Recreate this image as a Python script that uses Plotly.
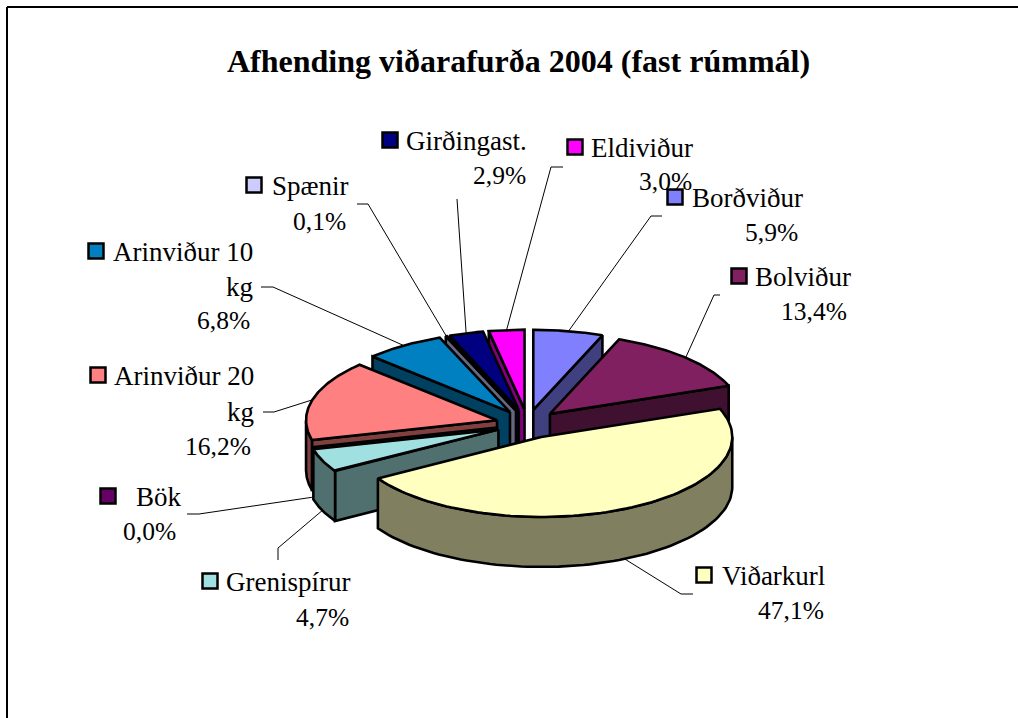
import numpy as np
import plotly.graph_objects as go

# ---- data ----
categories = ["Borðviður", "Bolviður", "Viðarkurl", "Grenispírur", "Bök",
              "Arinviður 20 kg", "Arinviður 10 kg", "Spænir", "Girðingast.", "Eldiviður"]
values = [5.9, 13.4, 47.1, 4.7, 0.0, 16.2, 6.8, 0.1, 2.9, 3.0]
pct_labels = ["5,9%", "13,4%", "47,1%", "4,7%", "0,0%", "16,2%", "6,8%", "0,1%", "2,9%", "3,0%"]
top_colors = ["#8080FF", "#802060", "#FFFFC0", "#A0E0E0", "#660066",
              "#FF8080", "#0080C0", "#CCCCFF", "#000080", "#FF00FF"]
side_colors = ["#404080", "#401030", "#808060", "#507070", "#330033",
               "#804040", "#004060", "#666680", "#000040", "#800080"]
title_text = "Afhending viðarafurða 2004 (fast rúmmál)"

# ---- projection of the tilted pie (style / layout) ----
CX, CY, RX, RY, DEPTH = 527.5, 424.0, 191.0, 80.0, 50.0
EXPLODE_X, EXPLODE_Y = 0.165, 0.18
FONT = "Liberation Serif"
LW = 2.6
NAME_SIZE = 27
PCT_SIZE = 25.5

# label layout: key x/y, then text lines (x, y, anchor, text); numbers mean "use the pct label"
label_layout = {
    "Borðviður": ((675, 197), [(692, 198, "left", "Borðviður"), (798, 232, "right", 5.9)]),
    "Bolviður": ((739, 276), [(755, 277, "left", "Bolviður"), (847, 311, "right", 13.4)]),
    "Viðarkurl": ((704, 575), [(722, 576, "left", "Viðarkurl"), (824, 610, "right", 47.1)]),
    "Grenispírur": ((210, 581), [(226, 582, "left", "Grenispírur"), (349, 617, "right", 4.7)]),
    "Bök": ((108, 496), [(136, 497, "left", "Bök"), (176, 531, "right", 0.0)]),
    "Arinviður 20 kg": ((98, 375), [(114, 376, "left", "Arinviður 20"), (254, 412, "right", "kg"), (251, 446, "right", 16.2)]),
    "Arinviður 10 kg": ((96, 251), [(113, 252, "left", "Arinviður 10"), (253, 287, "right", "kg"), (250, 320, "right", 6.8)]),
    "Spænir": ((254, 185), [(272, 186, "left", "Spænir"), (346, 221, "right", 0.1)]),
    "Girðingast.": ((390, 140), [(406, 141, "left", "Girðingast."), (526, 175, "right", 2.9)]),
    "Eldiviður": ((575, 147), [(591, 148, "left", "Eldiviður"), (692, 181, "right", 3.0)]),
}
# leader lines: outer points next to the label
leader_layout = {
    "Borðviður": [(662, 216), (651, 216)],
    "Bolviður": [(720, 295), (714, 295)],
    "Viðarkurl": [(693, 594), (681, 594)],
    "Grenispírur": [(278, 560), (278, 548)],
    "Bök": [(187, 514), (199, 514)],
    "Arinviður 20 kg": [(263, 412), (274, 412)],
    "Arinviður 10 kg": [(261, 287), (273, 287)],
    "Spænir": [(357, 204), (368, 204)],
    "Girðingast.": [(457, 199)],
    "Eldiviður": [(563, 167), (551, 167)],
}

fracs = np.array(values) / sum(values)
edges = np.concatenate([[0], np.cumsum(fracs)]) * 2 * np.pi
fig = go.Figure()


def rim(theta, ax, ay):
    return ax + RX * np.sin(theta), ay - RY * np.cos(theta)


def poly(xs, ys, fill):
    fig.add_trace(go.Scatter(x=list(xs), y=list(ys), mode="lines", fill="toself", fillcolor=fill,
                             line=dict(color="black", width=LW), hoverinfo="skip", showlegend=False))


def apex(i):
    m = (edges[i] + edges[i + 1]) / 2
    return CX + EXPLODE_X * RX * np.sin(m), CY - EXPLODE_Y * RY * np.cos(m)


order = sorted(range(len(values)), key=lambda i: apex(i)[1])
for i in order:
    a0, a1 = edges[i], edges[i + 1]
    ax, ay = apex(i)
    mx, my = rim((a0 + a1) / 2, ax, ay)
    # cut faces that look towards the viewer (slice interior lies above the edge on screen)
    for th in (a0, a1):
        ex, ey = rim(th, ax, ay)
        dx, dy = ex - ax, ey - ay
        if abs(dx) > 1e-6 and (my - ay) - (dy / dx) * (mx - ax) < 0:
            poly([ax, ex, ex, ax, ax], [ay, ey, ey + DEPTH, ay + DEPTH, ay], side_colors[i])
    # outer wall on the near half
    lo, hi = max(a0, np.pi / 2), min(a1, 3 * np.pi / 2)
    if hi > lo:
        t = np.linspace(lo, hi, 80)
        wx, wy = rim(t, ax, ay)
        poly(np.r_[wx, wx[::-1], wx[0]], np.r_[wy, wy[::-1] + DEPTH, wy[0]], side_colors[i])
    # top face
    t = np.linspace(a0, a1, 100)
    tx, ty = rim(t, ax, ay)
    poly(np.r_[ax, tx, ax], np.r_[ay, ty, ay], top_colors[i])

# leader lines, from the label to the rim of each slice
for i, c in enumerate(categories):
    m = (edges[i] + edges[i + 1]) / 2
    ax, ay = apex(i)
    ex, ey = rim(m, ax, ay)
    if np.cos(m) < 0:
        ey = ey + DEPTH
    pts = leader_layout[c]
    fig.add_trace(go.Scatter(x=[p[0] for p in pts] + [ex], y=[p[1] for p in pts] + [ey], mode="lines",
                             line=dict(color="black", width=1), hoverinfo="skip", showlegend=False))

# legend keys and labels
fig.add_trace(go.Scatter(
    x=[label_layout[c][0][0] for c in categories],
    y=[label_layout[c][0][1] for c in categories],
    mode="markers",
    marker=dict(symbol="square", size=15, color=top_colors, line=dict(color="black", width=2.5)),
    hoverinfo="skip", showlegend=False))

annotations = [dict(x=518, y=61, xref="x", yref="y", text=f"<b>{title_text}</b>", showarrow=False,
                    font=dict(family=FONT, size=32, color="black"), xanchor="center", yanchor="middle")]
for i, c in enumerate(categories):
    for x, y, anchor, txt in label_layout[c][1]:
        size = NAME_SIZE
        if not isinstance(txt, str):
            txt = pct_labels[i]
            size = PCT_SIZE
        annotations.append(dict(x=x, y=y, xref="x", yref="y", text=txt, showarrow=False,
                                font=dict(family=FONT, size=size, color="black"), xanchor=anchor,
                                yanchor="middle", borderpad=0, borderwidth=0))

fig.update_layout(
    width=1018, height=718, margin=dict(l=0, r=0, t=0, b=0),
    paper_bgcolor="white", plot_bgcolor="white", showlegend=False, annotations=annotations,
    xaxis=dict(range=[0, 1018], visible=False, fixedrange=True),
    yaxis=dict(range=[718, 0], visible=False, fixedrange=True),
    shapes=[dict(type="line", xref="x", yref="y", x0=7, y0=7, x1=1018, y1=7, line=dict(color="black", width=2)),
            dict(type="line", xref="x", yref="y", x0=7, y0=7, x1=7, y1=718, line=dict(color="black", width=2))],
)
fig.write_html("out.html", config=dict(displayModeBar=False),
               post_script="document.body.style.margin='0';document.body.style.overflow='hidden';")
